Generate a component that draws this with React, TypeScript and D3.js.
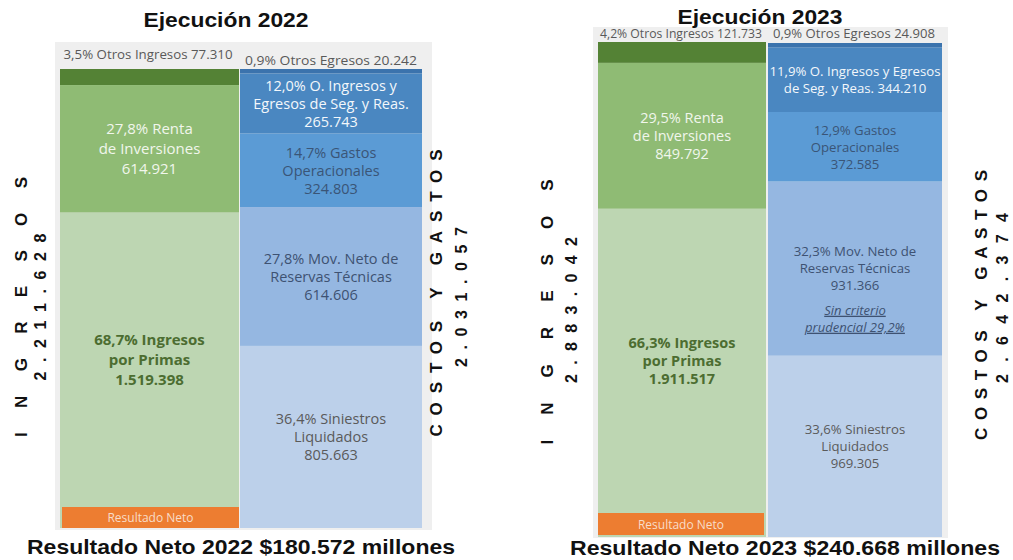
import React from "react";
import * as d3 from "d3";

// ---------- DATA ----------
const years = ["2022", "2023"];
const ingresosCategories = ["Otros Ingresos", "Renta de Inversiones", "Ingresos por Primas"];
const ingresos2022 = [77310, 614921, 1519398];
const ingresos2023 = [121733, 849792, 1911517];
const costosCategories = [
  "Otros Egresos",
  "O. Ingresos y Egresos de Seg. y Reas.",
  "Gastos Operacionales",
  "Mov. Neto de Reservas Técnicas",
  "Siniestros Liquidados",
];
const costos2022 = [20242, 265743, 324803, 614606, 805663];
const costos2023 = [24908, 344210, 372585, 931366, 969305];

const ingresosLabels2022 = [
  ["3,5% Otros Ingresos 77.310"],
  ["27,8% Renta", "de Inversiones", "614.921"],
  ["68,7% Ingresos", "por Primas", "1.519.398"],
];
const ingresosLabels2023 = [
  ["4,2% Otros Ingresos 121.733"],
  ["29,5% Renta", "de Inversiones", "849.792"],
  ["66,3% Ingresos", "por Primas", "1.911.517"],
];
const costosLabels2022 = [
  ["0,9% Otros Egresos 20.242"],
  ["12,0% O. Ingresos y", "Egresos de Seg. y Reas.", "265.743"],
  ["14,7% Gastos", "Operacionales", "324.803"],
  ["27,8% Mov. Neto de", "Reservas Técnicas", "614.606"],
  ["36,4% Siniestros", "Liquidados", "805.663"],
];
const costosLabels2023 = [
  ["0,9% Otros Egresos 24.908"],
  ["11,9% O. Ingresos y Egresos", "de Seg. y Reas. 344.210"],
  ["12,9% Gastos", "Operacionales", "372.585"],
  ["32,3% Mov. Neto de", "Reservas Técnicas", "931.366"],
  ["33,6% Siniestros", "Liquidados", "969.305"],
];
const notas = [[], ["Sin criterio", "prudencial 29,2%"]];
const totalIngresosLabels = ["2.211.628", "2.883.042"];
const totalCostosLabels = ["2.031.057", "2.642.374"];
const resultadoNetoLabels = ["$180.572", "$240.668"];

// ---------- STYLES / LAYOUT ----------
const leftColors = ["#548235", "#8fbb74", "#bdd6b2"];
const rightColors = ["#3b73ad", "#4a87c1", "#5b9bd5", "#95b7e1", "#bcd0ea"];
const leftText = ["#595959", "#f1f6ec", "#4c6d31"];
const rightText = ["#595959", "#f3f7fb", "#3a5577", "#3e5272", "#5a5a5a"];
const SEG_FONT = "'Open Sans', 'DejaVu Sans', sans-serif";
const BOLD_FONT = "'Liberation Sans', Arial, sans-serif";

const layouts = [
  {
    title: { x: 226, y: 27, len: 165 },
    bg: { x: 55, y: 42, w: 377, h: 488 },
    left: { x: 60, w: 179, top: 69, bottom: 528 },
    right: { x: 240, w: 182, top: 69, bottom: 528 },
    orange: { x: 62, y: 507, w: 177, h: 21 },
    topLabels: [
      { x: 148, y: 59, len: 169 },
      { x: 331, y: 65, len: 172 },
    ],
    leftFont: 15,
    rightFont: 14.5,
    leftLH: 20,
    rightLH: 18,
    ingAxis: { x: 27, y: 307, len: 260 },
    ingNum: { x: 46, y: 307, len: 147 },
    cosAxis: { x: 442, y: 293, len: 287 },
    cosNum: { x: 467, y: 297, len: 140 },
    bottom: { x: 241, y: 554, len: 428 },
  },
  {
    title: { x: 760, y: 24, len: 165 },
    bg: { x: 593, y: 27, w: 355, h: 511 },
    left: { x: 598, w: 168, top: 42, bottom: 537 },
    right: { x: 768, w: 174, top: 43, bottom: 537 },
    orange: { x: 598, y: 513, w: 166, h: 22 },
    topLabels: [
      { x: 681, y: 38, len: 162 },
      { x: 854, y: 38, len: 162 },
    ],
    leftFont: 14.5,
    rightFont: 13.2,
    leftLH: 18,
    rightLH: 17,
    ingAxis: { x: 553, y: 312, len: 265 },
    ingNum: { x: 577, y: 310, len: 146 },
    cosAxis: { x: 987, y: 305, len: 270 },
    cosNum: { x: 1008, y: 298, len: 170 },
    bottom: { x: 785, y: 555, len: 430 },
  },
];

const panels = [
  {
    year: years[0],
    ingresos: ingresos2022,
    costos: costos2022,
    ingLabels: ingresosLabels2022,
    cosLabels: costosLabels2022,
    nota: notas[0],
    totIng: totalIngresosLabels[0],
    totCos: totalCostosLabels[0],
    neto: resultadoNetoLabels[0],
  },
  {
    year: years[1],
    ingresos: ingresos2023,
    costos: costos2023,
    ingLabels: ingresosLabels2023,
    cosLabels: costosLabels2023,
    nota: notas[1],
    totIng: totalIngresosLabels[1],
    totCos: totalCostosLabels[1],
    neto: resultadoNetoLabels[1],
  },
];

function stack(values: number[], top: number, bottom: number) {
  const y = d3.scaleLinear().domain([0, d3.sum(values)]).range([top, bottom]);
  const cum = [0, ...Array.from(d3.cumsum(values))];
  return values.map((v, i) => ({ y0: y(cum[i]), y1: y(cum[i + 1]), v }));
}

function Lines({ lines, cx, cy, fs, lh, fill, weight }: any) {
  const n = lines.length;
  return (
    <text textAnchor="middle" fontFamily={SEG_FONT} fontSize={fs} fill={fill} fontWeight={weight || 400}>
      {lines.map((t: string, i: number) => (
        <tspan key={i} x={cx} y={cy + (i - (n - 1) / 2) * lh + fs * 0.36}>
          {t}
        </tspan>
      ))}
    </text>
  );
}

function Rotated({ x, y, len, text, size }: any) {
  return (
    <text
      transform={`translate(${x},${y}) rotate(-90)`}
      textAnchor="middle"
      fontFamily={BOLD_FONT}
      fontWeight={700}
      fontSize={size}
      fill="#111"
      textLength={len}
      lengthAdjust="spacing"
    >
      {text}
    </text>
  );
}

function Panel({ p, L }: any) {
  const leftSegs = stack(p.ingresos, L.left.top, L.left.bottom);
  const rightSegs = stack(p.costos, L.right.top, L.right.bottom);
  return (
    <g>
      <rect x={L.bg.x} y={L.bg.y} width={L.bg.w} height={L.bg.h} fill="#efefef" />
      {leftSegs.map((s, i) => (
        <rect key={"l" + i} x={L.left.x} y={s.y0} width={L.left.w} height={s.y1 - s.y0} fill={leftColors[i]}>
          <title>{ingresosCategories[i]}</title>
        </rect>
      ))}
      {rightSegs.map((s, i) => (
        <rect key={"r" + i} x={L.right.x} y={s.y0} width={L.right.w} height={s.y1 - s.y0} fill={rightColors[i]}>
          <title>{costosCategories[i]}</title>
        </rect>
      ))}
      <rect x={L.orange.x} y={L.orange.y} width={L.orange.w} height={L.orange.h} fill="#ed7d31" />
      <text
        x={L.orange.x + L.orange.w / 2}
        y={L.orange.y + L.orange.h / 2 + 4.5}
        textAnchor="middle"
        fontFamily={SEG_FONT}
        fontSize={12}
        fill="#f8dcc8"
      >
        Resultado Neto
      </text>

      {/* top labels */}
      <text x={L.topLabels[0].x} y={L.topLabels[0].y} textAnchor="middle" fontFamily={SEG_FONT} fontSize={12} fill={leftText[0]} textLength={L.topLabels[0].len} lengthAdjust="spacingAndGlyphs">
        {p.ingLabels[0][0]}
      </text>
      <text x={L.topLabels[1].x} y={L.topLabels[1].y} textAnchor="middle" fontFamily={SEG_FONT} fontSize={12} fill={rightText[0]} textLength={L.topLabels[1].len} lengthAdjust="spacingAndGlyphs">
        {p.cosLabels[0][0]}
      </text>

      {/* in-segment labels */}
      {leftSegs.slice(1).map((s, k) => {
        const i = k + 1;
        const bottom = i === leftSegs.length - 1 ? L.orange.y : s.y1;
        return (
          <Lines
            key={"lt" + i}
            lines={p.ingLabels[i]}
            cx={L.left.x + L.left.w / 2}
            cy={(s.y0 + bottom) / 2}
            fs={L.leftFont}
            lh={L.leftLH}
            fill={leftText[i]}
            weight={i === 2 ? 700 : 400}
          />
        );
      })}
      {rightSegs.slice(1).map((s, k) => {
        const i = k + 1;
        return (
          <Lines
            key={"rt" + i}
            lines={p.cosLabels[i]}
            cx={L.right.x + L.right.w / 2}
            cy={(s.y0 + s.y1) / 2}
            fs={L.rightFont}
            lh={L.rightLH}
            fill={rightText[i]}
          />
        );
      })}
      {p.nota.length > 0 && (
        <text
          textAnchor="middle"
          fontFamily={SEG_FONT}
          fontSize={13}
          fontStyle="italic"
          textDecoration="underline"
          fill="#3e5272"
        >
          {p.nota.map((t: string, i: number) => (
            <tspan key={i} x={L.right.x + L.right.w / 2} y={(rightSegs[3].y0 + rightSegs[3].y1) / 2 + 46 + i * 17}>
              {t}
            </tspan>
          ))}
        </text>
      )}

      {/* vertical labels */}
      <Rotated x={L.ingAxis.x} y={L.ingAxis.y} len={L.ingAxis.len} text="INGRESOS" size={17} />
      <Rotated x={L.ingNum.x} y={L.ingNum.y} len={L.ingNum.len} text={p.totIng} size={16} />
      <Rotated x={L.cosAxis.x} y={L.cosAxis.y} len={L.cosAxis.len} text="COSTOS Y GASTOS" size={17} />
      <Rotated x={L.cosNum.x} y={L.cosNum.y} len={L.cosNum.len} text={p.totCos} size={16} />

      {/* title and footer */}
      <text x={L.title.x} y={L.title.y} textAnchor="middle" fontFamily={BOLD_FONT} fontWeight={700} fontSize={21} fill="#111" textLength={L.title.len} lengthAdjust="spacingAndGlyphs">
        {`Ejecución ${p.year}`}
      </text>
      <text x={L.bottom.x} y={L.bottom.y} textAnchor="middle" fontFamily={BOLD_FONT} fontWeight={700} fontSize={21} fill="#111" textLength={L.bottom.len} lengthAdjust="spacingAndGlyphs">
        {`Resultado Neto ${p.year} ${p.neto} millones`}
      </text>
    </g>
  );
}

export default function App() {
  return (
    <svg
      width={1013}
      height={560}
      viewBox="0 0 1013 560"
      style={{ position: "absolute", left: 0, top: 0, background: "#fff", display: "block" }}
    >
      <rect width={1013} height={560} fill="#fff" />
      {panels.map((p, i) => (
        <Panel key={p.year} p={p} L={layouts[i]} />
      ))}
    </svg>
  );
}
